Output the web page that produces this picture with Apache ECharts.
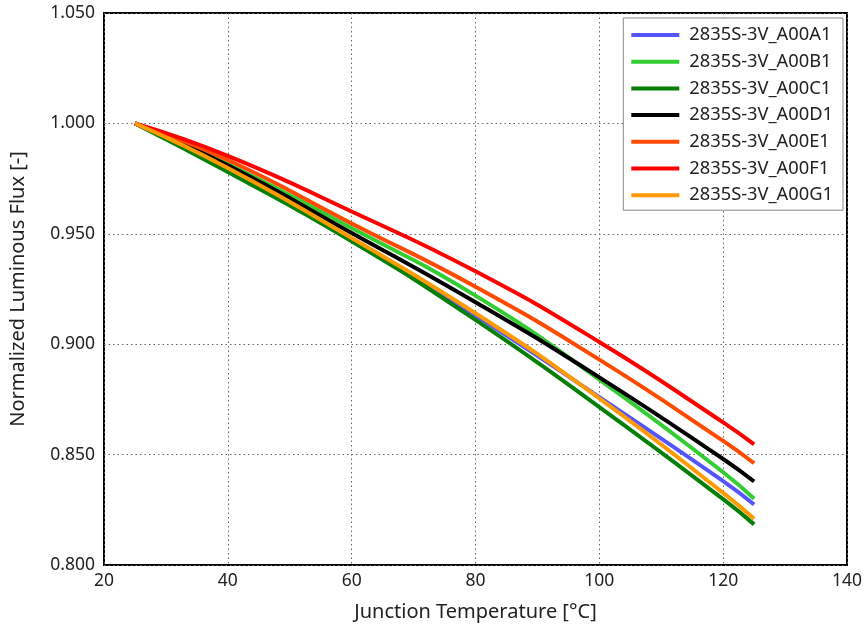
<!DOCTYPE html>
<html>
<head>
<meta charset="utf-8">
<script src="https://cdn.jsdelivr.net/npm/echarts@6/dist/echarts.min.js"></script>
<style>
html,body{margin:0;padding:0;background:#fff;}
#chart{width:865px;height:628px;}
</style>
</head>
<body>
<div id="chart"></div>
<script>
// Junction temperature points (°C)
const temps = [25, 40, 60, 80, 100, 120, 125];
const seriesNames = ['2835S-3V_A00A1','2835S-3V_A00B1','2835S-3V_A00C1','2835S-3V_A00D1','2835S-3V_A00E1','2835S-3V_A00F1','2835S-3V_A00G1'];
const A1 = [1.000, 0.9790, 0.9475, 0.9130, 0.8760, 0.8380, 0.8274];
const B1 = [1.000, 0.9816, 0.9526, 0.9220, 0.8840, 0.8420, 0.8300];
const C1 = [1.000, 0.9780, 0.9466, 0.9110, 0.8715, 0.8298, 0.8184];
const D1 = [1.000, 0.9810, 0.9504, 0.9190, 0.8850, 0.8480, 0.8378];
const E1 = [1.000, 0.9834, 0.9547, 0.9260, 0.8930, 0.8562, 0.8461];
const F1 = [1.000, 0.9853, 0.9601, 0.9330, 0.9010, 0.8646, 0.8546];
const G1 = [1.000, 0.9798, 0.9481, 0.9140, 0.8755, 0.8327, 0.8209];
const allValues = [A1, B1, C1, D1, E1, F1, G1];
const colors = ['#5555FF', '#33CC33', '#067F06', '#000000', '#FF4A00', '#FF0000', '#FF9A00'];

const font = 'Noto Sans';
const chart = echarts.init(document.getElementById('chart'), null, {renderer: 'canvas'});
const series = seriesNames.map((name, i) => ({
  name: name,
  type: 'line',
  smooth: true,
  symbol: 'none',
  data: temps.map((t, j) => [t, allValues[i][j]]),
  lineStyle: {width: 4, color: colors[i]},
  itemStyle: {color: colors[i]}
}));
chart.setOption({
  animation: false,
  backgroundColor: '#ffffff',
  textStyle: {fontFamily: font},
  grid: {left: 100, right: 18, top: 13, bottom: 63, show: true, borderColor: '#000', borderWidth: 2, backgroundColor: 'transparent'},
  legend: {
    orient: 'vertical',
    right: 22, top: 18,
    padding: [8, 10, 6, 8],
    icon: 'rect',
    itemWidth: 48, itemHeight: 4, itemGap: 8.7,
    backgroundColor: '#fff',
    borderColor: '#888', borderWidth: 1,
    textStyle: {fontFamily: font, fontSize: 18.3, color: '#222', lineHeight: 18, padding: [0, 0, 0, 5]},
    data: seriesNames
  },
  xAxis: {
    type: 'value', min: 20, max: 140, interval: 20,
    name: 'Junction Temperature [°C]', nameLocation: 'middle', nameGap: 37,
    nameTextStyle: {fontFamily: font, fontSize: 20, color: '#222'},
    axisLine: {show: false}, axisTick: {show: false},
    axisLabel: {fontFamily: font, fontSize: 17.5, color: '#222', margin: 7},
    splitLine: {show: true, lineStyle: {color: '#666', width: 1, type: [1.5, 3]}}
  },
  yAxis: {
    type: 'value', min: 0.8, max: 1.05, interval: 0.05,
    name: 'Normalized Luminous Flux [-]', nameLocation: 'middle', nameGap: 76,
    nameTextStyle: {fontFamily: font, fontSize: 20, color: '#222'},
    axisLine: {show: false}, axisTick: {show: false},
    axisLabel: {fontFamily: font, fontSize: 17.5, color: '#222', margin: 9, formatter: v => v.toFixed(3)},
    splitLine: {show: true, lineStyle: {color: '#666', width: 1, type: [1.5, 3]}}
  },
  series: series
});
</script>
</body>
</html>
